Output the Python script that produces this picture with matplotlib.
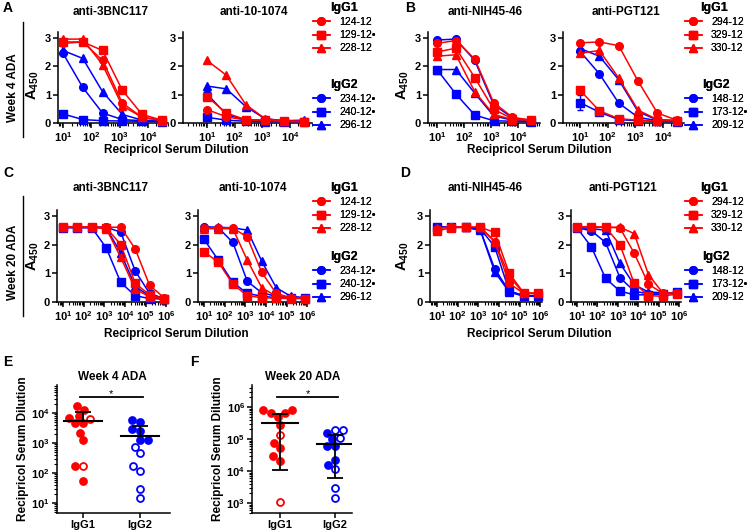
import numpy as np
import matplotlib
matplotlib.use('Agg')
import matplotlib.pyplot as plt
from matplotlib.lines import Line2D
from matplotlib.ticker import LogLocator, NullFormatter

plt.rcParams['font.family'] = ['Liberation Sans', 'DejaVu Sans']
plt.rcParams['mathtext.fontset'] = 'custom'
plt.rcParams['mathtext.rm'] = 'Liberation Sans'
plt.rcParams['mathtext.bf'] = 'Liberation Sans:bold'
plt.rcParams['axes.linewidth'] = 1.1

# ---------------- data ----------------
dil_wk4 = [10, 50, 250, 1250, 6250, 31250]
dil_wk20 = [10, 50, 250, 1250, 6250, 31250, 156250, 781250]

mice_ac = ['124-12', '129-12•', '228-12', '234-12•', '240-12•', '296-12']
mice_bd = ['294-12', '329-12', '330-12', '148-12', '173-12•', '209-12']

# A450 per mouse (same order as the mouse lists)
a_3bnc117 = [[2.80, 2.85, 2.20, 0.70, 0.20, 0.10],
             [2.85, 2.85, 2.55, 1.15, 0.30, 0.10],
             [2.95, 2.95, 2.05, 0.60, 0.20, 0.08],
             [2.45, 1.25, 0.35, 0.12, 0.08, 0.05],
             [0.32, 0.12, 0.08, 0.07, 0.06, 0.05],
             [2.55, 2.27, 1.10, 0.30, 0.10, 0.07]]
a_10_1074 = [[0.47, 0.22, 0.10, 0.10, 0.06, 0.05],
             [0.93, 0.35, 0.12, 0.10, 0.06, 0.05],
             [2.20, 1.68, 0.65, 0.15, 0.07, 0.06],
             [1.02, 0.30, 0.10, 0.08, 0.06, 0.05],
             [0.20, 0.10, 0.06, 0.05, 0.05, 0.05],
             [1.30, 1.20, 0.58, 0.15, 0.08, 0.10]]
b_nih4546 = [[2.80, 2.90, 2.25, 0.72, 0.20, 0.10],
             [2.50, 2.63, 1.60, 0.48, 0.15, 0.10],
             [2.35, 2.40, 1.10, 0.30, 0.12, 0.10],
             [2.92, 2.95, 2.20, 0.65, 0.18, 0.08],
             [1.88, 1.02, 0.28, 0.08, 0.06, 0.05],
             [1.88, 1.88, 1.05, 0.25, 0.10, 0.08]]
b_pgt121 = [[2.82, 2.85, 2.72, 1.47, 0.35, 0.10],
            [1.15, 0.43, 0.15, 0.10, 0.08, 0.07],
            [2.45, 2.55, 1.58, 0.45, 0.12, 0.10],
            [2.52, 1.73, 0.70, 0.20, 0.08, 0.06],
            [0.72, 0.38, 0.12, 0.08, 0.06, 0.05],
            [2.62, 2.35, 1.52, 0.40, 0.10, 0.08]]
b_pgt121_err_173 = [0.28, 0, 0, 0, 0, 0]

c_3bnc117 = [[2.60, 2.60, 2.60, 2.60, 2.60, 1.85, 0.58, 0.15],
             [2.62, 2.62, 2.60, 2.58, 2.00, 0.65, 0.25, 0.12],
             [2.60, 2.60, 2.60, 2.55, 1.55, 0.45, 0.18, 0.10],
             [2.60, 2.60, 2.60, 2.60, 2.43, 1.08, 0.30, 0.12],
             [2.58, 2.58, 2.58, 1.88, 0.68, 0.22, 0.12, 0.10],
             [2.60, 2.60, 2.60, 2.58, 1.70, 0.55, 0.20, 0.10]]
c_10_1074 = [[2.58, 2.58, 2.58, 2.25, 1.03, 0.30, 0.15, 0.12],
             [1.75, 1.38, 0.62, 0.22, 0.15, 0.13, 0.12, 0.12],
             [2.55, 2.55, 2.55, 1.45, 0.50, 0.20, 0.15, 0.12],
             [2.62, 2.58, 2.07, 0.72, 0.32, 0.20, 0.15, 0.13],
             [2.18, 1.45, 0.68, 0.30, 0.20, 0.15, 0.15, 0.15],
             [2.60, 2.60, 2.58, 2.50, 1.42, 0.50, 0.20, 0.15]]
d_nih4546 = [[2.55, 2.62, 2.60, 2.60, 2.10, 0.65, 0.30, 0.30],
             [2.48, 2.58, 2.60, 2.60, 2.42, 1.00, 0.32, 0.30],
             [2.58, 2.60, 2.60, 2.60, 2.10, 0.90, 0.30, 0.30],
             [2.62, 2.60, 2.60, 2.50, 1.15, 0.38, 0.22, 0.22],
             [2.60, 2.60, 2.60, 2.55, 1.92, 0.38, 0.22, 0.22],
             [2.60, 2.60, 2.60, 2.50, 1.05, 0.35, 0.20, 0.20]]
d_pgt121 = [[2.62, 2.60, 2.60, 2.58, 1.70, 0.62, 0.30, 0.30],
            [2.62, 2.60, 2.60, 2.00, 0.65, 0.22, 0.20, 0.28],
            [2.62, 2.62, 2.60, 2.60, 2.38, 0.95, 0.32, 0.30],
            [2.58, 2.48, 2.07, 0.85, 0.38, 0.28, 0.28, 0.30],
            [2.58, 1.92, 0.82, 0.38, 0.25, 0.25, 0.28, 0.35],
            [2.60, 2.55, 2.50, 1.35, 0.60, 0.35, 0.32, 0.32]]

# reciprocal serum dilution titers (E: week 4, F: week 20); open = hollow marker
groups = ['IgG1', 'IgG2']
e_igg1 = [17400, 12900, 6600, 4470, 4470, 6300, 7760, 2140, 1230, 174, 174, 56]
e_igg1_open = [0, 0, 0, 0, 0, 1, 0, 0, 0, 1, 0, 0]
e_igg2 = [5130, 6030, 2880, 2570, 1290, 1290, 741, 468, 166, 120, 30, 15]
e_igg2_open = [0, 0, 0, 0, 0, 0, 1, 1, 1, 1, 1, 1]
e_mean = [5300, 1730]
e_sd = [5400, 2040]

f_igg1 = [794000, 646000, 676000, 794000, 490000, 282000, 138000, 76000, 52000, 29000, 21000, 1050]
f_igg1_open = [0, 0, 0, 0, 0, 0, 1, 0, 0, 0, 0, 1]
f_igg2 = [186000, 186000, 155000, 107000, 102000, 59000, 59000, 22000, 15000, 11500, 3000, 1400]
f_igg2_open = [1, 1, 0, 1, 0, 0, 0, 0, 0, 1, 1, 1]
f_mean = [316000, 71000]
f_sd = [305000, 65000]

# ---------------- layout ----------------
W, H = 749, 532
fig = plt.figure(figsize=(W / 100, H / 100), dpi=100)

colors = ['red', 'red', 'red', 'blue', 'blue', 'blue']
markers = ['o', 's', '^', 'o', 's', '^']


def add_ax(x0, y0, x1, y1):
    return fig.add_axes([x0 / W, 1 - y1 / H, (x1 - x0) / W, (y1 - y0) / H])


def ftext(x, y, s, **kw):
    kw.setdefault('ha', 'center')
    kw.setdefault('va', 'center')
    fig.text(x / W, 1 - y / H, s, **kw)


def style(ax):
    for s in ['top', 'right']:
        ax.spines[s].set_visible(False)
    ax.tick_params(which='major', length=3.5, width=1.1, pad=1.5, labelsize=8)
    ax.tick_params(which='minor', length=2, width=0.8)


def curve_panel(rect, p1, dec, dil, rows, n_dec, errs=None):
    ax = add_ax(*rect)
    x0, _, x1, _ = rect
    ax.set_xscale('log')
    ax.set_xlim(10 ** (1 - (p1 - x0) / dec), 10 ** (1 + (x1 - p1) / dec))
    ax.set_ylim(0, 3.2)
    for i in [3, 4, 5, 0, 1, 2]:
        ax.plot(dil, rows[i], color=colors[i], marker=markers[i], ms=5.5,
                lw=1.1, clip_on=False, zorder=3)
        if errs and i in errs:
            ax.errorbar(dil, rows[i], yerr=errs[i], fmt='none', ecolor=colors[i],
                        elinewidth=1, capsize=2, clip_on=False, zorder=2)
    ticks = [10 ** k for k in range(1, n_dec + 1)]
    ax.set_xticks(ticks)
    ax.set_xticklabels([r'$\mathbf{10^{%d}}$' % k for k in range(1, n_dec + 1)])
    ax.xaxis.set_minor_locator(LogLocator(base=10, subs=np.arange(2, 10), numticks=20))
    ax.xaxis.set_minor_formatter(NullFormatter())
    ax.set_yticks([0, 1, 2, 3])
    ax.set_yticklabels(['0', '1', '2', '3'], fontweight='bold')
    style(ax)
    return ax


def legend_block(x, y_top, y_top2, labels):
    handles = [Line2D([], [], color=colors[i], marker=markers[i], ms=5.5, lw=1.1)
               for i in range(6)]
    for k, (ytop, title) in enumerate([(y_top, 'IgG1'), (y_top2, 'IgG2')]):
        leg = fig.legend(handles[3 * k:3 * k + 3], labels[3 * k:3 * k + 3],
                         title=title, loc='upper left',
                         bbox_to_anchor=(x / W, 1 - ytop / H), frameon=False,
                         fontsize=7.5, title_fontproperties={'weight': 'bold', 'size': 9},
                         handlelength=1.6, handletextpad=0.9, labelspacing=0.3,
                         borderpad=0, borderaxespad=0)
        fig.add_artist(leg)


# rows 1 and 2: binding curves
axA1 = curve_panel((58, 32, 168, 123), 63, 28.3, dil_wk4, a_3bnc117, 4)
axA2 = curve_panel((183, 32, 312, 123), 207, 27.7, dil_wk4, a_10_1074, 4)
axB1 = curve_panel((428, 32, 540, 123), 437, 27.0, dil_wk4, b_nih4546, 4)
axB2 = curve_panel((563, 32, 684, 123), 580, 27.7, dil_wk4, b_pgt121, 4,
                   errs={4: b_pgt121_err_173})
axC1 = curve_panel((57, 210, 168, 302), 63, 20.65, dil_wk20, c_3bnc117, 6)
axC2 = curve_panel((198, 210, 309, 302), 204, 20.65, dil_wk20, c_10_1074, 6)
axD1 = curve_panel((430, 210, 542, 302), 437, 20.65, dil_wk20, d_nih4546, 6)
axD2 = curve_panel((571, 210, 681, 302), 577, 20.45, dil_wk20, d_pgt121, 6)

for (cx, cy, t) in [(111, 12, 'anti-3BNC117'), (254, 12, 'anti-10-1074'),
                    (485, 12, 'anti-NIH45-46'), (626, 12, 'anti-PGT121'),
                    (111, 188, 'anti-3BNC117'), (253, 188, 'anti-10-1074'),
                    (485, 188, 'anti-NIH45-46'), (623, 188, 'anti-PGT121')]:
    ftext(cx, cy, t, fontsize=8.5, fontweight='bold')

for (cx, cy) in [(33, 85), (403, 85), (33, 256), (403, 256)]:
    ftext(cx, cy, r'$\mathbf{A_{450}}$', fontsize=10.5, rotation=90)

for (cx, cy) in [(176, 150), (539, 150), (176, 334), (539, 334)]:
    ftext(cx, cy, 'Recipricol Serum Dilution', fontsize=8.5, fontweight='bold')

legend_block(313, 2, 79, mice_ac)
legend_block(685, 2, 79, mice_bd)
legend_block(313, 182, 251, mice_ac)
legend_block(685, 182, 251, mice_bd)

for (cx, cy, s) in [(8, 8, 'A'), (410, 8, 'B'), (8, 173, 'C'), (405, 173, 'D'),
                    (8, 362, 'E'), (194, 362, 'F')]:
    ftext(cx, cy, s, fontsize=10, fontweight='bold')

ftext(13, 88, 'Week 4 ADA', fontsize=8.5, fontweight='bold', rotation=90)
ftext(13, 262, 'Week 20 ADA', fontsize=8.5, fontweight='bold', rotation=90)
for (ya, yb) in [(22, 137), (196, 316)]:
    fig.add_artist(Line2D([23 / W, 23 / W], [1 - ya / H, 1 - yb / H], color='black', lw=1))


# row 3: titers
def swarm_x(ax, center, vals, sep):
    pts = ax.transData.transform(np.column_stack([np.full(len(vals), center), vals]))
    cx = pts[0, 0]
    ys = pts[:, 1]
    xs = np.full(len(vals), cx)
    placed = []
    for idx in np.argsort(ys):
        y = ys[idx]
        cands = [cx]
        for (px, py) in placed:
            dy = abs(py - y)
            if dy < sep:
                dx = np.sqrt(sep ** 2 - dy ** 2)
                cands += [px - dx, px + dx]
        ok = [c for c in cands
              if all((c - px) ** 2 + (y - py) ** 2 >= sep ** 2 - 1e-6 for (px, py) in placed)]
        best = min(ok, key=lambda c: abs(c - cx))
        xs[idx] = best
        placed.append((best, y))
    inv = ax.transData.inverted()
    return inv.transform(np.column_stack([xs, ys]))[:, 0]


def titer_panel(rect, xl, yl, dec_lo, dec_hi, data, opens, means, sds, title, tcx):
    ax = add_ax(*rect)
    ax.set_yscale('log')
    ax.set_xlim(*xl)
    ax.set_ylim(*yl)
    for k, (vals, op) in enumerate(zip(data, opens)):
        col = colors[0] if k == 0 else colors[3]
        xs = swarm_x(ax, k + 1, vals, 8)
        for x, v, o in zip(xs, vals, op):
            ax.plot(x, v, 'o', ms=5, mec=col, mfc='white' if o else col,
                    mew=1.3, clip_on=False, zorder=3)
        m, s = means[k], sds[k]
        lo = m - s if m - s > 0 else m
        ax.plot([k + 1 - 0.33, k + 1 + 0.33], [m, m], color='black', lw=1.5, zorder=4)
        ax.errorbar(k + 1, m, yerr=[[m - lo], [s]], fmt='none', ecolor='black',
                    elinewidth=1.3, capsize=6, capthick=1.3, zorder=4)
    ax.set_xticks([1, 2])
    ax.set_xticklabels(groups, fontweight='bold', fontsize=8.5)
    ax.set_yticks([10 ** k for k in range(dec_lo, dec_hi + 1)])
    ax.set_yticklabels([r'$\mathbf{10^{%d}}$' % k for k in range(dec_lo, dec_hi + 1)])
    ax.yaxis.set_minor_locator(LogLocator(base=10, subs=np.arange(2, 10), numticks=20))
    ax.yaxis.set_minor_formatter(NullFormatter())
    style(ax)
    ax.plot([0.95, 2.05], [0.906, 0.906], color='black', lw=1.3,
            transform=ax.get_xaxis_transform(), clip_on=False)
    ax.text(1.5, 0.93, '*', transform=ax.get_xaxis_transform(), ha='center',
            va='center', fontsize=8)
    ftext(tcx, 377, title, fontsize=8.5, fontweight='bold')
    return ax


axE = titer_panel((57, 385, 170, 513), (0.544, 2.53), (10 ** 0.667, 10 ** 4.93), 1, 4,
                  [e_igg1, e_igg2], [e_igg1_open, e_igg2_open], e_mean, e_sd,
                  'Week 4 ADA', 112)
axF = titer_panel((252, 385, 352, 513), (0.49, 2.31), (10 ** 2.69, 10 ** 6.69), 3, 6,
                  [f_igg1, f_igg2], [f_igg1_open, f_igg2_open], f_mean, f_sd,
                  'Week 20 ADA', 303)
ftext(23, 449, 'Recipricol Serum Dilution', fontsize=8.5, fontweight='bold', rotation=90)
ftext(218, 449, 'Recipricol Serum Dilution', fontsize=8.5, fontweight='bold', rotation=90)

fig.savefig('out.png', dpi=100)
